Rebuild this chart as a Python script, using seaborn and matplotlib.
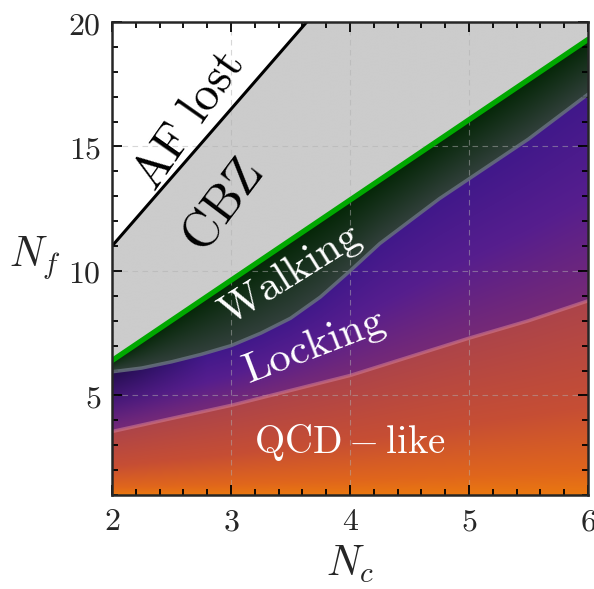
import numpy as np
import matplotlib
matplotlib.use('Agg')
import matplotlib.pyplot as plt
import seaborn as sns

# =========================
# Boundaries (Nc, Nf)
# =========================
af_nc = [2.0, 3.636]
af_nf = [11.0, 20.0]

cbz_nc = [2.0, 6.0]
cbz_nf = [6.4, 19.3]

walk_nc = [2.0, 2.25, 2.5, 2.75, 3.0, 3.25, 3.5, 3.75, 4.0, 4.25,
           4.5, 4.75, 5.0, 5.25, 5.5, 5.75, 6.0]
walk_nf = [5.95, 6.1, 6.35, 6.65, 7.0, 7.5, 8.1, 8.95, 10.0, 11.1,
           12.0, 12.9, 13.7, 14.5, 15.3, 16.2, 17.1]

qcd_nc = [2.0, 3.0, 4.0, 5.0, 5.5, 6.0]
qcd_nf = [3.55, 4.6, 5.8, 7.3, 8.0, 8.8]

x_ticks = [2, 3, 4, 5, 6]
y_ticks = [5, 10, 15, 20]

# region colours (RGB 0-255)
col_af = (255, 255, 255)
col_cbz = (204, 204, 204)
walk_lo, walk_hi = (50, 64, 60), (4, 38, 6)
lock_stops = [0.0, 0.5, 1.0]
lock_cols = [(118, 42, 118), (86, 30, 142), (64, 24, 138)]
qcd_stops = [0.0, 0.12, 0.45, 1.0]
qcd_cols = [(234, 120, 16), (224, 102, 28), (198, 78, 52), (172, 68, 74)]

# =========================
# Background image
# =========================
nc = np.linspace(2, 6, 900)
nf = np.linspace(1, 20, 900)
NC, NF = np.meshgrid(nc, nf)
af = np.interp(nc, af_nc, af_nf)[None, :]
cbz = np.interp(nc, cbz_nc, cbz_nf)[None, :]
wk = np.interp(nc, walk_nc, walk_nf)[None, :]
qc = np.interp(nc, qcd_nc, qcd_nf)[None, :]

img = np.zeros(NC.shape + (3,))
w = np.clip((NF - wk) / (cbz - wk), 0, 1)
l = np.clip((NF - qc) / (wk - qc), 0, 1)
q = np.clip((NF - 1) / (qc - 1), 0, 1)
edge = np.clip((NC - 2) / 0.8, 0, 1)
dark = 1.0 - (0.45 * l ** 1.5) * (1 - edge)
for k in range(3):
    cw = walk_lo[k] + (walk_hi[k] - walk_lo[k]) * w
    cl = np.interp(l, lock_stops, [c[k] for c in lock_cols]) * dark
    cq = np.interp(q, qcd_stops, [c[k] for c in qcd_cols])
    ch = np.where(NF > af, col_af[k],
         np.where(NF > cbz, col_cbz[k],
         np.where(NF > wk, cw,
         np.where(NF > qc, cl, cq))))
    img[..., k] = ch / 255.0

# =========================
# Figure
# =========================
sns.set_style('ticks')
plt.rcParams['mathtext.fontset'] = 'cm'
plt.rcParams['font.family'] = ['DejaVu Serif']

fig = plt.figure(figsize=(5.94, 5.89), dpi=100)
ax = fig.add_axes([0.1886, 0.1596, 0.8013, 0.803])
ax.imshow(img, extent=[2, 6, 1, 20], origin='lower', aspect='auto',
          interpolation='bilinear', zorder=0)

sns.lineplot(x=qcd_nc, y=qcd_nf, ax=ax, color='#d07890', lw=2.5, alpha=0.6, zorder=3)
sns.lineplot(x=walk_nc, y=walk_nf, ax=ax, color='#6a7580', lw=2.5, alpha=0.8, zorder=3)
sns.lineplot(x=cbz_nc, y=cbz_nf, ax=ax, color='#00a800', lw=3.8, zorder=4)
sns.lineplot(x=af_nc, y=af_nf, ax=ax, color='black', lw=2.2, zorder=4)

ax.set_xlim(2, 6)
ax.set_ylim(1, 20)
ax.set_xticks(x_ticks)
ax.set_yticks(y_ticks)
ax.set_xticklabels([f'${v}$' for v in x_ticks], fontsize=23)
ax.set_yticklabels([f'${v}$' for v in y_ticks], fontsize=23)
ax.set_xticks(np.arange(2, 6.01, 0.2), minor=True)
ax.set_yticks(np.arange(1, 20.01, 1), minor=True)
ax.tick_params(which='both', direction='in', top=True, right=True, width=1.3, color='black')
ax.tick_params(which='major', length=7, pad=8)
ax.tick_params(which='minor', length=4)
ax.grid(True, which='major', ls=(0, (5, 4)), color='#b0b0b0', lw=0.8, alpha=0.5, zorder=5)
for s in ax.spines.values():
    s.set_linewidth(1.8)
    s.set_zorder(6)

ax.set_xlabel(r'$N_c$', fontsize=30, labelpad=4)
ax.set_ylabel(r'$N_f$', fontsize=30, rotation=0, labelpad=24, va='center')

# region labels
ax.text(2.64, 16.05, r'$\mathrm{AF\ lost}$', fontsize=35, rotation=55,
        ha='center', va='center', rotation_mode='anchor', color='black', zorder=7)
ax.text(2.93, 12.6, r'$\mathrm{CBZ}$', fontsize=36, rotation=53,
        ha='center', va='center', rotation_mode='anchor', color='black', zorder=7)
ax.text(3.5, 9.85, r'$\mathrm{Walking}$', fontsize=31, rotation=32,
        ha='center', va='center', rotation_mode='anchor', color='white', zorder=7)
ax.text(3.7, 6.95, r'$\mathrm{Locking}$', fontsize=31, rotation=21,
        ha='center', va='center', rotation_mode='anchor', color='white', zorder=7)
ax.text(4.0, 3.1, r'$\mathrm{QCD}-\mathrm{like}$', fontsize=28,
        ha='center', va='center', color='white', zorder=7)

plt.savefig('out.png', dpi=100)
